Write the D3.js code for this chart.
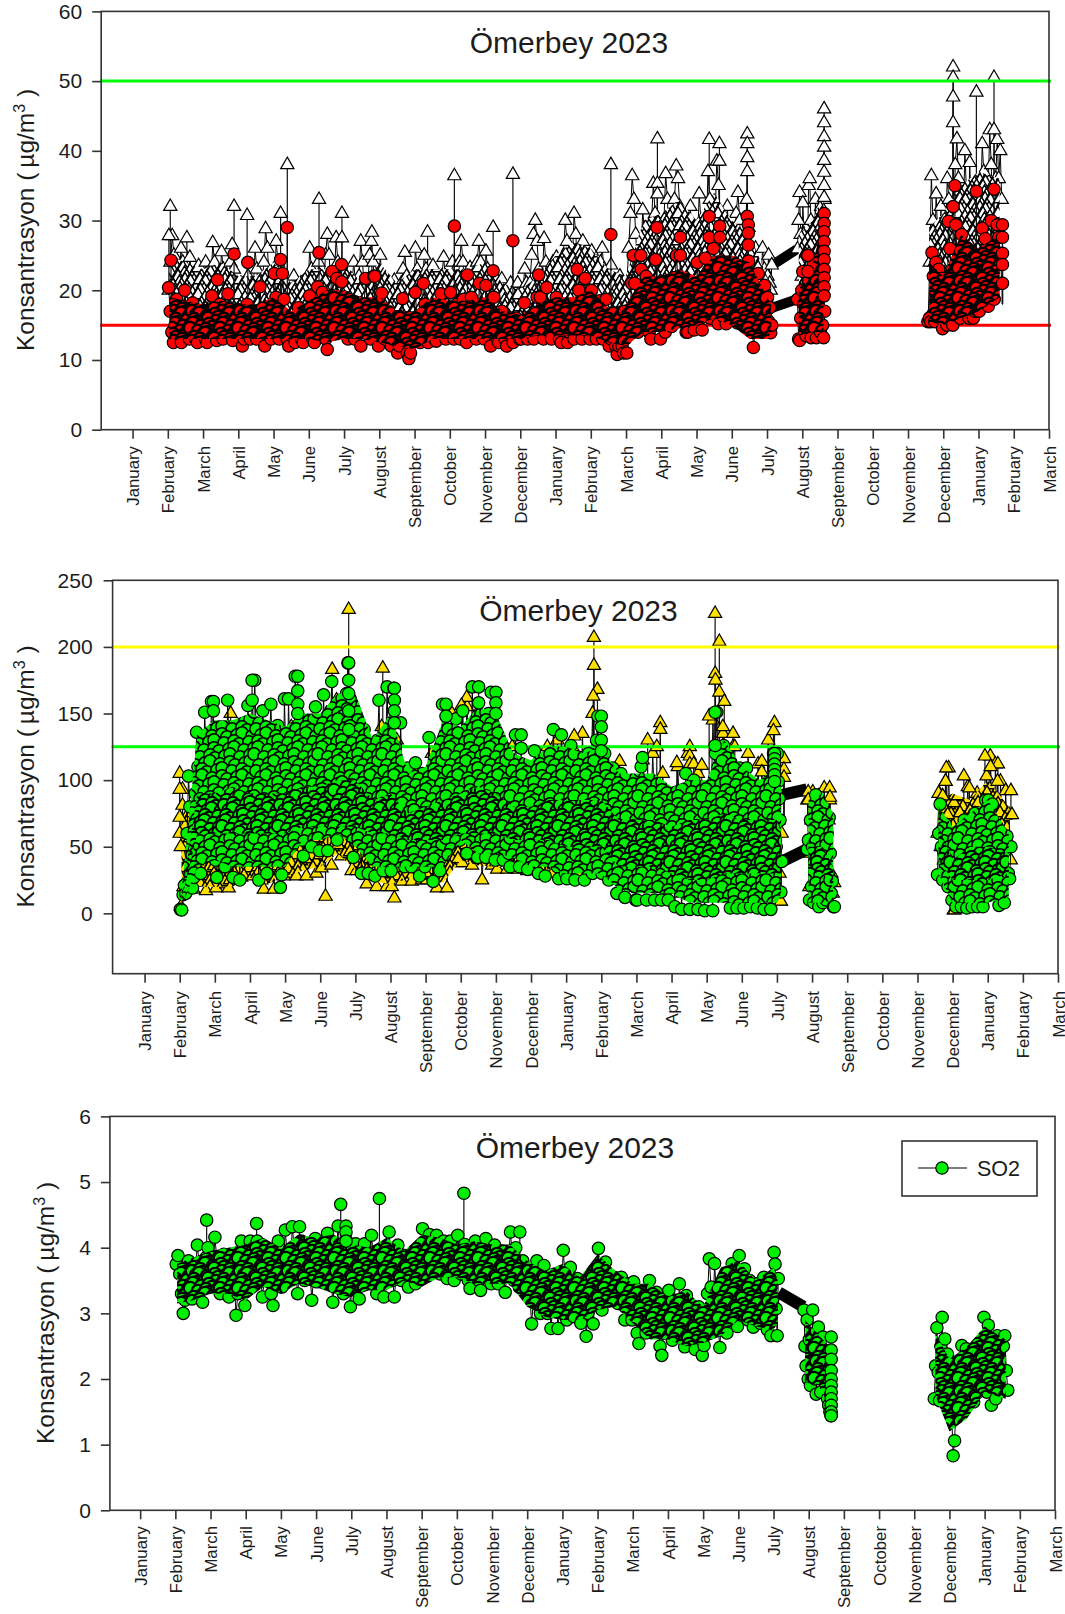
<!DOCTYPE html>
<html>
<head>
<meta charset="utf-8">
<title>Ömerbey 2023</title>
<script src="https://cdn.jsdelivr.net/npm/d3@7"></script>
<style>
html, body { margin: 0; padding: 0; background: #fff; overflow: hidden; }
svg { display: block; }
text { font-family: "Liberation Sans", Arial, sans-serif; fill: #1c1c1c; }
</style>
</head>
<body>
<div id="chart"></div>
<script>
// tick labels, one per tick on the month axis (0 = first January)
var monthLabels = ['January','February','March','April','May','June','July','August','September','October','November','December',
  'January','February','March','April','May','June','July','August','September','October','November','December',
  'January','February','March'];

// where each block of readings sits on the month axis
var spanStart = [1,2,3,4,5,6,7,8,9,10,11,12,13,14,15,16,17,18,18.85,19,22.55,23,24];
var spanEnd   = [2,3,4,5,6,7,8,9,10,11,12,13,14,15,16,17,18,18.15,19,19.65,23,24,24.68];
var runs = [[0,17],[18,19],[20,22]];
var bandTimes = [18.15,18.85];
// half-month stations for the lower and upper edge of each packed cloud
var underT = [1.05,1.5,2,2.5,3,3.5,4,4.5,5,5.5,6,6.5,7,7.5,8,8.5,9,9.5,10,10.5,11,11.5,12,12.5,13,13.5,14,14.5,15,15.5,16,16.5,17,17.5,18,18.12,null,18.9,19.3,19.6,null,22.6,23,23.5,24,24.6];

// top chart, white triangles
var pm10 = [
  [20,24,27.8,25,21,18,22,26,24,20,17,20,24.7,22,19,17,20,23.5,21,18],
  [19,24,22,18,21,26.8,24,20,17,21,25.5,23,19,17,20,24,26.5,23,19,17],
  [18,21,19,17,19,22,20,17,20,26,23,19,17,21,24,28.8,26,22,19,17],
  [20,27,24,20,17,19,21,19,17,18,20,22,20,17,19,21,19,16,18,20],
  [26,23,19,17,20,24,22,18,21,25,28,25,21,18,22,27.5,24,20,17,19],
  [21.7,20,17,19,21,24,21,18,22,27,24,20,17,21,25,27,24,20,17,19],
  [25,22,19,17,20.8,19,17,18,21.4,19,16,18,21,23,25.4,22,19,16,18,20],
  [26,23,19,17,21,25,23,19,17,20,23.5,21,18,16,19,22,24.7,22,19,17],
  [19,24,21,18,20,24,27,24,20,17,20,23.2,21,18,21,24,27,24,20,17],
  [25.6,23,19,17,19,22,20,17,19,21.6,19,16,18,20,21,19,16,18,21,19],
  [17,20,23,21,18,21,25,28,30,27,23,19,22,27.4,24,20,17,20,24,21],
  [24.7,21,17,20,25,30,27,22,18,23,31,28,23,19,22,27,24,20,17,20],
  [25.6,22,18,17,20,24,26,23,19,17,20,23.6,21,18,16,19,22,20,17,19],
  [21,26,31,36.4,33,28,23,19,25,31.5,28,23,19,24,30,35.3,31,26,21,18],
  [23,30,36.7,33,27,21,26,33,37.8,36,32,27,22,18,23,28,32,27,22,19],
  [26,33.8,30,24,20,28,37,33,26,21,30,38.5,35,29,23,19,26,32,27,22],
  [20,26,31,34,30,24,20,27,33,29,24,20,23,26,22,18,21,26,23,19],
  [22,25,21,20,23.6],
  [25.9,30,34,28,22],
  [32.5,28,22,18,24,35,36,30,24,19,26,33,28,22,18,26,32,26,20,33],
  [16,24,36.4,30,24,33.8,28,20,32,26],
  [18,28,36,33,25,20,30,38,41.7,36,28,22,30,40,34,26,38.3,32,24,20,28,34],
  [24,33,41,37,30,24,35,43,38,30,25,36,41.6,36,40,33]
];
var pm10Band = [23.6,25.9];
var pm10SpikeT = [1.07,1.03,2.88,3.25,4.39,5.29,5.94,5.94,9.13,10.23,10.79,1.54,6.79,8.37,4.2,13.57,14.89,14.89,14.89,16.36,16.65,16.65,17.44,17.44,17.44,17.44,19.62,19.62,19.62,19.62,19.62,19.62,19.62,19.62,23.28,23.28,23.28,23.28,23.94,24.44,24.44];
var pm10SpikeV = [32,27.8,32,30.7,38,33,31,27.5,36.4,29,36.6,27.5,28.3,28.3,31,38,41.7,35.3,33.8,41.6,41,38.5,42.4,41,39,37,46,44,42,40.5,38.6,36.9,35,33.3,52,50.5,47.7,44,48.4,50.5,43];
var pm10UnderLo = [15,15,15,15,15,15,15,15,15,15,15,15,15,15,15,15,15,15,15,15,15,15,15,15,15,15,15,15,15,16,16,17,17,16,16,16,null,16,16,16,null,16,16,17,18,20];
var pm10UnderHi = [25,24,23,24,22,22,24,21,23,23,24,21,24,21,23,23,23,23,24,21,20,22,25,27,26,23,22,30,31,33,30,34,30,28,22,21,null,28,30,34,null,29,31,35,37,36];

// top chart, red circles
var pm25 = [
  [20.4,17,14,12.5,15,18.7,16,13.5,12.5,15,20,17,14,13,16,18.2,15,13,12.5,15,17,14],
  [16,13,12.5,14,17,19.2,16,14,12.8,15,18,15,13,14,17,19.5,16,14,12.8,15,17,14],
  [17.2,14,12,13,16,18,15,13,15,17,14,13,16,20.5,17,14,12,14,16,14,13,15],
  [22.4,19,15,13,17,22.4,18.7,15,13,12,14,15.7,14,12.5,15,17.5,15,13,12.5,15,17,14],
  [19.2,16,13,12.5,16,20.5,17,14,19.7,16,13,11.5,15,19,22.7,19,15,21.7,18,14,21.2,17],
  [19,15,13,15,17.7,15,13,16,18.2,15,12,14,18,21.7,18,15,13,17,22,18,14,12],
  [14,19.6,16,13,15,17,14,12,13,15.2,13,11,12,15,18.8,16,13,11,10.2,11,13,15],
  [19.7,16,13,12.5,16,21,18,14,12.5,15,17.7,15,13,12.7,14,17,19.5,16,14,13,15,17],
  [19.7,16,13,15,18,15,13,15,18.7,15,12.5,14,16,19,16,14,13,16,21,17,14,13],
  [20.7,18,14,12,16,19,16,13,12.5,14,17,15,13,12,14,16,14,12.5,14,16,14,13],
  [13,15,18.2,15,13,14,16,14,13,15,19,22.2,19,15,13,15,20.4,17,14,13,15,17],
  [19,16,13,12.5,15,17,15,12.5,14,18,15,13,17,23,20,16,13,16,21.7,18,14,13],
  [20,17,14,13,15,18.5,15,13,15,18.7,15,12,13,16,14,12,10.8,12,14,12,11,13],
  [11,14,17,21,25,21,17,14,19,23,19,15,22,18,14,13,17,21,24.4,20,16,13],
  [21.2,17,14,16,19.7,17,14.8,17,21,25,21,16,19,21,17,14,14,17,19.2,16,14.3,16],
  [24,20,16,14.3,18,24.6,21,17,16,21,26,22,17,15.2,19,24.2,20,16,15.2,18,21,17],
  [23,19,16,15.3,18,21.2,18,15,17,22,24.2,20,16,11.8,14,18,22.4,18,14,17,20.7,16],
  [19,15.5,17.5,13.9,15],
  [18.7,13,12.8,16,20],
  [22.7,18,14,13.5,17,25,21,16,13.2,18,24,19,15,13.2,17,21.8,17,14,19.2,15,13.2,17],
  [15.5,16,15.5,25.4,22,15.5,24,19,23,17,21.7,14.5],
  [18.2,16,15,29.9,26,20,15,18,29.4,24,19,16,28,23,18,26,21,16,23,18,16,17,20,17],
  [17,22,28.9,23,27.4,21,17.7,24,30,25,18.7,24,29.4,27.6,25.3,21]
];
var pm25Band = [17.5,18.7];
var pm25SpikeT = [1.09,2.88,3.27,4.39,5.29,5.93,9.13,10.79,10.23,2.41,4.2,9.5,6.87,13.57,14.88,16.36,16.36,16.66,16.66,17.44,17.47,17.47,17.47,15.54,15.54,19.62,19.62,19.62,19.62,19.62,19.62,19.62,19.62,19.62,19.62,19.16,19.16,23.33,23.28,23.94,24.44,24.68,24.68,24.68,24.68,24.68,14.42];
var pm25SpikeV = [24.3,25.2,24,29,25.4,23.7,29.2,27.1,22.8,21.5,24.4,22.2,22,28,29,30.6,27.6,29.2,27.6,30.6,29.4,28.2,26.5,27.6,25,31,29.6,28.4,27,25.6,24.4,23,21.8,20.5,19.2,25,22.7,35,32,34.2,34.5,29.4,27.6,25.3,23.7,21,25];
var pm25UnderLo = [13,13,13,13,13,13,13,13,13,12.5,13,13,12.5,12,11.5,13,13,13,13,13,13,13.5,13.5,13.5,13.5,12.5,12,14,14,14.5,15,16,15,13,13,14,null,13.5,14,14,null,15.5,15,16,17,19];
var pm25UnderHi = [19,18.5,18,18.5,18,18,19,17,18.5,20,20,19,19,17,17,19,18.5,18.5,19,17,16.5,18,19,19,20,17.5,18,22,22,23,22,25,25,24,19,18,null,20,24,30,null,24,22,28,26,28];

// middle chart, yellow triangles
var nox = [
  [5,20,60,75,40,18,50,95,60,25,17,45,100,55],
  [19,50,110,70,22,19,60,130,80,30,27,60,120,70],
  [28,70,130,80,25,18,60,120,60,18,50,130,75,28],
  [30,80,140,70,28,60,130,60,28,70,135,75,30,60],
  [34,80,150,90,36,70,160,100,43,75,150,90,32,70],
  [32,70,130,70,22,60,120,60,20,70,140,80,20,50],
  [20,60,130,70,24,60,100,55,24,60,105,60,25,50],
  [25,60,120,65,19,55,130,70,19,60,150,80,38,70],
  [38,80,155,90,36,75,150,85,25,60,140,70,36,60],
  [33,60,110,60,33,70,125,65,33,60,105,55,32,50],
  [32,55,105,60,30,70,125,65,30,60,130,70,30,55],
  [31,60,125,65,30,60,135,70,30,60,150,85,35,60],
  [30,60,110,60,25,60,105,55,25,50,85,50,20,40],
  [20,60,115,70,20,55,120,65,20,50,105,55,18,45],
  [18,50,110,60,15,55,120,65,15,50,105,55,15,45],
  [15,60,145,80,20,65,135,70,18,50,125,65,15,50],
  [15,60,120,70,15,55,112,60,15,50,130,70,15,60],
  [110,70,30,9,60],
  [85,50,20,45,70],
  [91,50,15,60,88,45,10,50,94,50,15,70,85,30,15,23],
  [60,90,50,88,40,99,60,109,50,74],
  [2.5,30,70,35,10,55,95,50,15,45,90,50,10,60,103],
  [60,118,70,30,112,65,30,99,55,25,92,50,74,40]
];
var noxBand = [89,93];
var noxSpikeT = [5.81,5.34,6.78,2.45,5.15,7.11,9.17,9.02,1,1.08,1,1.08,1,1,1.03,12.79,12.79,12.89,12.77,16.24,16.36,16.24,16.25,16.36,16.5,16.46,16.75,16.07,14.68,14.68,14.32,14.58,15.15,15.52,15.52,15.52,15.63,15.86,13.52,17.57,17.57,17.93,17.9,18.2,18.2,18.2,16.8,12.23,18.89,18.89,19.5,19.51,18.98,18.11,22.82,22.8,22.6,22.72,23.32,23.48,23.92,24.29,24.08,24.28,24.66,24.69,23.06,22.86];
var noxSpikeV = [228,183,184,150,12.7,11.4,162,156,105,93,93,81,72,60,50,207,186,168,163,225,204,180,175,166,159,140,135,148,143,138,130,125,113,125,118,112,112,111,114,114,106,143,137,116,108,102,125,133,91,85,94,87,73,9,109,99,90,88,103,94,118,112,110,99,92,74,2.5,74];
var noxUnderLo = [25,20,20,20,27,22,28,32,35,45,33,24,22,26,25,23,40,36,35,35,33,33,33,33,32,25,25,20,20,15,15,20,20,20,25,30,null,60,40,25,null,60,8,20,25,40];
var noxUnderHi = [70,90,90,90,90,90,90,90,90,90,90,90,90,90,90,90,90,90,90,90,90,90,90,90,90,80,80,85,85,85,85,110,100,85,100,90,null,82,85,65,null,85,90,85,100,80];

// middle chart, green circles
var o3 = [
  [3,2.5,14,21,15,60,103,80,45,19,27,90,136,110,70,30,42,100,151,120,75,45,95,159,130,85],
  [40,27,70,110,131,100,60,35,90,160,130,85,45,27,80,136,100,60,25,70,140,105,55,85,156,120],
  [70,40,120,175,140,90,25,60,110,152,115,70,30,85,130,157,120,80,45,100,141,95,19.5,29,90,161],
  [120,70,161,120,75,51,110,178,140,95,128,90,55,43,80,120,131,100,60,50,95,125,155,110,70,47],
  [90,130,164,120,80,47,95,140,174,130,85,60,55,100,150,120,80,65,110,165,188,140,95,65,42,80],
  [120,146,100,60,30,75,138,100,55,30,70,123,90,50,28,85,130,160,110,65,32,80,125,170,120,60],
  [32,100,169,125,80,40,90,143,100,60,35,80,109,90,55,35,70,100,113,80,50,28,70,105,60,35],
  [65,100,132,90,50,24,70,115,90,50,32,90,157,110,70,55,95,130,100,75,55,90,146,110,75,55],
  [95,152,110,70,45,85,130,100,170,130,90,55,42,80,120,140,100,70,42,95,150,110,166,100,60,40],
  [70,110,120,85,50,40,75,105,70,45,35,70,115,85,134,100,60,35,70,100,110,80,50,33,70,90],
  [60,100,122,90,50,30,65,100,75,45,28,60,100,80,120,90,138,100,60,35,26,70,134,95,55,30],
  [26,70,105,126,90,50,25,60,95,110,117,80,40,25,70,105,120,85,45,30,60,95,130,148,100,60],
  [30,80,120,90,50,25,60,100,109,70,35,15,55,90,105,70,35,12,50,89,60,30,70,45,20,10],
  [10,45,85,110,117,80,40,10,45,85,99,65,30,10,50,90,70,30,10,45,92,60,25,10,50,89],
  [60,30,5,45,89,65,30,3,45,85,105,75,35,3,40,70,100,70,30,3,45,83,55,20,2,40],
  [60,95,60,20,2,65,120,151,110,70,30,75,126,85,117,80,40,4,50,90,60,25,4,55,109,70],
  [40,4,50,109,80,45,5,40,87,60,25,4,45,85,60,25,3,45,95,70,30,3,60,120,99,50],
  [120,99,86,70,16,39],
  [48,55,10,70,20],
  [50,8,30,89,60,20,5,50,80,40,8,72,50,10,60,30,72,45,15,24,5,5],
  [29,60,82,50,25,45,67,40,20,58,35,10],
  [58,30,5,25,50,30,5,45,70,40,4,30,60,35,5,50,75,40,5,40,70,45,5,60,85,40],
  [85,55,15,82,60,20,64,35,6,50,60,30,8,50,58,30,26,50]
];
var o3Band = [39,48];
var o3SpikeT = [3.06,3.06,5.81,5.81,5.81,5.81,5.81,4.36,4.36,4.36,4.36,7.11,7.11,7.11,7.11,9.51,9.51,10,10,10,8.58,8.58,1.96,1.96,10.72,10.72,16.24,16.24,17.93,17.93,17.93,17.93,17.93,17.93,13,13,13,13];
var o3SpikeV = [175,160,188,175,165,152,138,178,167,157,150,169,160,152,143,170,158,166,158,150,157,148,159,152,134,124,151,126,120,116,112,108,104,99,148,140,130,122];
var o3UnderLo = [5,35,40,35,35,35,35,55,55,60,50,35,35,35,35,35,55,45,45,42,35,35,30,30,30,18,15,15,15,8,8,8,8,8,8,15,null,8,8,10,null,30,8,8,8,12];
var o3UnderHi = [15,135,145,145,150,145,140,150,150,165,165,130,150,105,110,145,140,155,150,120,115,125,125,120,125,105,105,105,95,100,100,130,110,100,110,95,null,85,90,75,null,80,65,75,85,60];
var o3CoreLo = [10,60,60,60,60,60,60,65,65,65,65,60,60,55,55,55,60,60,60,55,55,55,50,50,50,35,35,35,30,25,25,30,30,30,30,30,null,30,30,20,null,40,25,25,25,30];
var o3CoreHi = [10,90,90,95,90,90,90,95,95,100,100,85,90,75,80,85,90,95,90,80,80,85,85,85,85,70,70,70,65,70,70,75,70,70,70,60,null,50,50,35,null,65,40,50,50,45];

// bottom chart, SO2
var so2 = [
  [3.75,3.88,3.6,3.3,3.0,3.2,3.55,3.8,3.5,3.22,3.45,3.7,4.04,3.75,3.4,3.17,3.5,3.85,4.0,3.6],
  [3.4,3.75,4.16,3.85,3.5,3.3,3.6,3.9,3.65,3.4,3.25,3.55,3.8,3.5,2.97,3.3,3.7,4.1,3.7,3.12],
  [3.45,3.8,4.1,3.85,3.6,3.75,4.1,3.9,3.55,3.25,3.5,3.75,3.96,3.65,3.3,3.12,3.45,3.8,4.1,3.75],
  [3.4,3.75,4.27,3.9,3.55,3.75,4.32,4.0,3.6,3.3,3.65,4.1,3.8,3.5,3.75,4.05,3.7,3.2,3.5,4.14],
  [3.48,3.8,4.0,3.7,3.5,3.85,4.22,3.9,3.55,3.17,3.5,3.9,4.33,3.95,3.6,3.3,3.7,4.1,3.75,3.1],
  [3.45,3.8,4.06,3.7,3.22,3.5,3.8,4.06,3.75,3.45,3.7,4.19,3.85,3.5,3.3,3.6,3.95,3.6,3.25,3.7],
  [3.8,4.24,3.9,3.5,3.25,3.6,4.04,3.75,3.5,3.65,3.88,3.6,3.4,3.6,3.8,3.55,3.45,3.7,3.95,4.0],
  [4.29,4.0,3.7,3.9,4.2,3.95,3.75,3.95,4.19,3.9,3.6,3.8,4.1,3.85,3.53,3.75,4.1,3.8,3.5,3.7],
  [4.19,3.9,3.6,3.8,4.05,3.8,3.5,3.38,3.65,4.0,4.1,3.8,3.5,3.35,3.65,3.95,4.14,3.85,3.6,3.45],
  [3.8,4.04,3.7,3.45,3.75,3.95,3.65,3.32,3.6,3.9,4.24,3.85,3.5,4.0,3.7,3.4,3.6,3.8,3.6,3.55],
  [3.63,3.3,2.84,3.2,3.6,3.8,3.4,3.0,3.3,3.73,3.4,3.0,3.3,2.77,3.1,3.4,3.2,2.77,3.1,3.35],
  [3.96,3.55,2.9,3.25,3.7,3.3,2.95,3.2,3.53,3.2,2.85,3.15,3.4,2.65,3.0,3.4,3.1,2.84,3.2,3.5],
  [3.99,3.6,3.05,3.4,3.78,3.4,3.25,3.5,3.25,3.55,3.3,3.15,3.4,3.55,3.2,2.9,3.2,3.45,3.1,2.9],
  [3.48,3.1,2.7,2.54,2.9,3.3,3.0,2.7,3.05,3.5,3.1,2.8,3.2,3.32,2.9,2.5,2.36,2.7,3.1,2.8],
  [3.35,3.0,2.59,2.85,3.2,2.85,3.45,3.05,2.7,2.49,3.27,2.9,2.6,3.05,2.75,2.45,2.8,3.1,2.7,2.36],
  [2.51,2.9,3.3,3.83,3.4,2.9,3.76,3.3,2.8,2.48,3.0,3.48,3.1,2.7,3.3,3.0,3.76,3.3,3.0,2.8],
  [3.88,3.4,3.0,3.68,3.3,2.9,3.5,3.15,2.79,3.1,3.45,3.1,2.85,3.2,3.55,3.1,2.75,3.0,2.66,3.2],
  [3.93,3.75,3.07,2.66,3.53],
  [3.05,2.5,2.2,2.9,2.0],
  [2.6,1.9,2.3,3.05,2.6,2.0,1.77,2.5,2.79,2.2,1.8,2.4,2.64,2.44,2.13,1.9,1.7,1.6,1.5,1.44],
  [1.7,2.2,2.78,2.1,1.67,2.5,2.94,2.2,2.61,2.0,2.38,1.6],
  [2.1,1.5,0.83,1.06,1.6,2.2,1.8,1.47,2.51,2.0,1.65,2.46,2.0,1.65,2.2,1.8,1.65,2.35,2.0,1.8,2.5,2.2,1.9,2.94],
  [2.3,1.8,2.82,2.3,1.6,2.1,2.5,1.7,2.66,2.3,2.13,1.83,2.5,2.66,2.13,1.83]
];
var so2Band = [3.32,3.1];
var so2SpikeT = [1.89,3.31,5.7,6.8,9.2,10.79,4.53,5.85,5.85,5.85,19.64,19.64,19.64,19.64,19.64,19.64,19.64,19.64,19.64,19.64,19.64];
var so2SpikeV = [4.42,4.37,4.66,4.75,4.83,4.24,4.32,4.33,4.24,4.1,2.64,2.44,2.3,2.13,2.0,1.9,1.8,1.7,1.6,1.5,1.44];
var so2UnderLo = [3.15,3.2,3.3,3.3,3.2,3.4,3.3,3.45,3.4,3.3,3.25,3.35,3.35,3.5,3.4,3.55,3.55,3.45,3.45,3.45,3.1,2.95,2.9,2.9,3.05,3.1,2.85,2.6,2.6,2.5,2.55,2.65,2.9,2.8,2.75,2.85,null,1.95,1.9,1.55,null,1.75,1.2,1.4,1.8,1.7];
var so2UnderHi = [3.75,3.85,3.95,4,4.05,4.15,4,4.2,4.15,4.2,4.05,4,4.15,3.95,4.2,4.15,4.05,4.1,4.05,4.05,3.8,3.65,3.75,3.55,3.9,3.65,3.45,3.45,3.25,3.35,3.1,3.7,3.8,3.5,3.7,3.5,null,2.9,2.65,2.5,null,2.7,2.3,2.5,2.8,2.6];

var chartTitle = 'Ömerbey 2023';
var legendLabel = 'SO2';

var RED = '#ff0000', GREEN = '#00f000', GOLD = '#ffe000';

var svg = d3.select('#chart').append('svg')
  .attr('width', 1065)
  .attr('height', 1614);
var defs = svg.append('defs');

var triangle = d3.symbol().type(d3.symbolTriangle).size(76)();
var circle = d3.symbol().type(d3.symbolCircle).size(120)();

// texture of overlapping markers used inside the packed part of a cloud
function makeTexture(id, mark, fill, stepX, stepY, strokeW) {
  var cols = 8, rows = 6, W = cols * stepX, H = rows * stepY;
  var tile = defs.append('pattern')
    .attr('id', id)
    .attr('patternUnits', 'userSpaceOnUse')
    .attr('width', W)
    .attr('height', H);
  tile.append('rect').attr('width', W).attr('height', H).attr('fill', fill);
  [-1, 0, 1].forEach(function(wy) {
    [-1, 0, 1].forEach(function(wx) {
      d3.range(rows * cols).forEach(function(i) {
        var r = Math.floor(i / cols), c = i % cols;
        var dx = (i * 7) % 5 - 2, dy = (i * 3) % 5 - 2;
        tile.append('path')
          .attr('d', mark)
          .attr('transform', 'translate(' + ((c + (r % 2) / 2) * stepX + dx + wx * W) + ',' + (r * stepY + dy + wy * H) + ')')
          .attr('fill', fill)
          .attr('stroke', '#000')
          .attr('stroke-width', strokeW);
      });
    });
  });
}
makeTexture('packWhite', triangle, '#fff', 5, 4.5, 1.4);
makeTexture('packRed', circle, RED, 6, 5, 2.4);
makeTexture('packGold', triangle, GOLD, 8, 7, 1.4);
makeTexture('packGreen', circle, GREEN, 8, 7, 1.6);
makeTexture('packGreenDense', circle, GREEN, 7, 6, 1.9);
makeTexture('packSo2', circle, GREEN, 6, 5, 2.2);

function toPoints(blocks) {
  var pts = [];
  blocks.forEach(function(vals, b) {
    vals.forEach(function(v, i) {
      pts.push({ t: spanStart[b] + (spanEnd[b] - spanStart[b]) * (i + 0.5) / vals.length, v: v, b: b });
    });
  });
  return pts;
}

function drawUnder(g, x, y, lo, hi, fill) {
  var area = d3.area()
    .defined(function(d) { return d !== null; })
    .x(function(d) { return x(d); })
    .y0(function(d) { return y(lo[underT.indexOf(d)]); })
    .y1(function(d) { return y(hi[underT.indexOf(d)]); });
  g.append('path').datum(underT).attr('d', area).attr('fill', fill);
}

function drawMarks(g, x, y, data, mark, fill) {
  g.selectAll(null).data(data).enter().append('path')
    .attr('d', mark)
    .attr('transform', function(d) { return 'translate(' + x(d.t) + ',' + y(d.v) + ')'; })
    .attr('fill', fill)
    .attr('stroke', '#000')
    .attr('stroke-width', 1.2);
}

function drawSeries(g, x, y, s) {
  var pts = toPoints(s.values);
  var spikes = s.spikeT.map(function(t, i) { return { t: t, v: s.spikeV[i] }; });
  var line = d3.line().x(function(d) { return x(d.t); }).y(function(d) { return y(d.v); });
  var mark = s.shape === 'triangle' ? triangle : circle;

  // single high readings stand on a vertical stem
  g.selectAll(null).data(spikes.filter(function(d) { return d.v >= s.stemMin; })).enter().append('line')
    .attr('x1', function(d) { return x(d.t); })
    .attr('x2', function(d) { return x(d.t); })
    .attr('y1', y(s.stemBase))
    .attr('y2', function(d) { return y(d.v); })
    .attr('stroke', '#111')
    .attr('stroke-width', 1.2);

  // solid run of readings across the data gap
  g.append('path')
    .datum(bandTimes.map(function(t, i) { return { t: t, v: s.band[i] }; }))
    .attr('d', line)
    .attr('fill', 'none')
    .attr('stroke', '#000')
    .attr('stroke-width', s.bandWidth);

  runs.forEach(function(r) {
    g.append('path')
      .datum(pts.filter(function(p) { return p.b >= r[0] && p.b <= r[1]; }))
      .attr('d', line)
      .attr('fill', 'none')
      .attr('stroke', '#000')
      .attr('stroke-width', 1);
  });

  drawMarks(g, x, y, pts, mark, s.fill);

  drawUnder(g, x, y, s.underLo, s.underHi, s.underFill);
  if (s.coreLo) {
    drawUnder(g, x, y, s.coreLo, s.coreHi, s.coreFill);
  }

  drawMarks(g, x, y, spikes, mark, s.fill);
}

function drawPanel(p) {
  var x = d3.scaleLinear().domain([p.t0, 26]).range([p.left, p.right]);
  var y = d3.scaleLinear().domain(p.yDomain).range([p.bottom, p.top]);
  var g = svg.append('g');

  p.series.forEach(function(s, i) {
    drawSeries(g, x, y, s);
    // limit lines lie between the two series
    if (i === 0 && p.limits) {
      p.limits.forEach(function(l) {
        g.append('line')
          .attr('x1', p.left - 1).attr('x2', p.right + 2)
          .attr('y1', y(l.value)).attr('y2', y(l.value))
          .attr('stroke', l.color).attr('stroke-width', 3);
      });
    }
  });

  // frame
  g.append('rect')
    .attr('x', p.left).attr('y', p.top)
    .attr('width', p.right - p.left).attr('height', p.bottom - p.top)
    .attr('fill', 'none').attr('stroke', '#333').attr('stroke-width', 1.6);

  var yAxis = g.append('g')
    .attr('transform', 'translate(' + p.left + ',0)')
    .call(d3.axisLeft(y).tickValues(p.yTicks).tickSize(9).tickPadding(p.yPad).tickFormat(d3.format('d')));
  yAxis.select('.domain').remove();
  yAxis.selectAll('line').attr('stroke', '#333').attr('stroke-width', 1.6);
  yAxis.selectAll('text').style('font-size', '21px').attr('fill', '#1c1c1c');

  var xAxis = g.append('g')
    .attr('transform', 'translate(0,' + p.bottom + ')')
    .call(d3.axisBottom(x).tickValues(d3.range(27)).tickSize(9).tickFormat(function(d) { return monthLabels[d]; }));
  xAxis.select('.domain').remove();
  xAxis.selectAll('line').attr('stroke', '#333').attr('stroke-width', 1.6);
  xAxis.selectAll('text')
    .attr('transform', 'rotate(-90)')
    .attr('text-anchor', 'end')
    .attr('x', -(p.labelTop - p.bottom))
    .attr('y', 0)
    .attr('dy', '0.36em')
    .style('font-size', '16.8px')
    .attr('fill', '#1c1c1c');

  g.append('text')
    .attr('x', p.titleX).attr('y', p.titleY)
    .attr('text-anchor', 'middle')
    .style('font-size', '30px')
    .attr('fill', '#111')
    .text(chartTitle);

  var yTitle = g.append('text')
    .attr('transform', 'translate(' + p.yTitleX + ',' + p.yTitleBottom + ') rotate(-90)')
    .style('font-size', '24.5px');
  yTitle.append('tspan').text('Konsantrasyon (\u2009µg/m');
  yTitle.append('tspan').attr('dy', -9).style('font-size', '16px').text('3');
  yTitle.append('tspan').attr('dy', 9).text(' )');

  if (p.legend) {
    var leg = g.append('g');
    leg.append('rect')
      .attr('x', 902).attr('y', 1141).attr('width', 135).attr('height', 55)
      .attr('fill', '#fff').attr('stroke', '#333').attr('stroke-width', 1.6);
    leg.append('line')
      .attr('x1', 918).attr('x2', 967).attr('y1', 1168).attr('y2', 1168)
      .attr('stroke', '#000').attr('stroke-width', 1.2);
    leg.append('path')
      .attr('d', circle)
      .attr('transform', 'translate(942,1168)')
      .attr('fill', GREEN).attr('stroke', '#000').attr('stroke-width', 1.2);
    leg.append('text')
      .attr('x', 977).attr('y', 1176)
      .style('font-size', '21.5px')
      .text(legendLabel);
  }
}

drawPanel({
  left: 101.2, right: 1049, top: 11.4, bottom: 429.7, t0: -0.89,
  yDomain: [0, 60], yTicks: d3.range(0, 61, 10), yPad: 10,
  labelTop: 446, titleX: 569, titleY: 53, yTitleX: 34, yTitleBottom: 351,
  limits: [{ value: 50, color: '#00ff00' }, { value: 15, color: '#ff0000' }],
  series: [
    { shape: 'triangle', fill: '#fff', values: pm10, band: pm10Band, bandWidth: 10,
      spikeT: pm10SpikeT, spikeV: pm10SpikeV, stemBase: 20, stemMin: -Infinity,
      underLo: pm10UnderLo, underHi: pm10UnderHi, underFill: 'url(#packWhite)' },
    { shape: 'circle', fill: RED, values: pm25, band: pm25Band, bandWidth: 10,
      spikeT: pm25SpikeT, spikeV: pm25SpikeV, stemBase: 18, stemMin: -Infinity,
      underLo: pm25UnderLo, underHi: pm25UnderHi, underFill: 'url(#packRed)' }
  ]
});

drawPanel({
  left: 112.6, right: 1058, top: 580.3, bottom: 973.7, t0: -0.91,
  yDomain: [-45.3, 250], yTicks: d3.range(0, 251, 50), yPad: 11,
  labelTop: 991, titleX: 578.5, titleY: 621, yTitleX: 34, yTitleBottom: 907.5,
  limits: [{ value: 200, color: '#ffff00' }, { value: 125, color: '#00ff00' }],
  series: [
    { shape: 'triangle', fill: GOLD, values: nox, band: noxBand, bandWidth: 12,
      spikeT: noxSpikeT, spikeV: noxSpikeV, stemBase: 70, stemMin: -Infinity,
      underLo: noxUnderLo, underHi: noxUnderHi, underFill: 'url(#packGold)' },
    { shape: 'circle', fill: GREEN, values: o3, band: o3Band, bandWidth: 12,
      spikeT: o3SpikeT, spikeV: o3SpikeV, stemBase: 100, stemMin: -Infinity,
      underLo: o3UnderLo, underHi: o3UnderHi, underFill: 'url(#packGreen)',
      coreLo: o3CoreLo, coreHi: o3CoreHi, coreFill: 'url(#packGreenDense)' }
  ]
});

drawPanel({
  left: 109.9, right: 1055, top: 1116.4, bottom: 1510.3, t0: -0.86,
  yDomain: [0, 6], yTicks: d3.range(0, 7), yPad: 10,
  labelTop: 1526, titleX: 575, titleY: 1158, yTitleX: 54, yTitleBottom: 1444,
  legend: true,
  series: [
    { shape: 'circle', fill: GREEN, values: so2, band: so2Band, bandWidth: 12,
      spikeT: so2SpikeT, spikeV: so2SpikeV, stemBase: 3.8, stemMin: 3,
      underLo: so2UnderLo, underHi: so2UnderHi, underFill: 'url(#packSo2)' }
  ]
});
</script>
</body>
</html>
